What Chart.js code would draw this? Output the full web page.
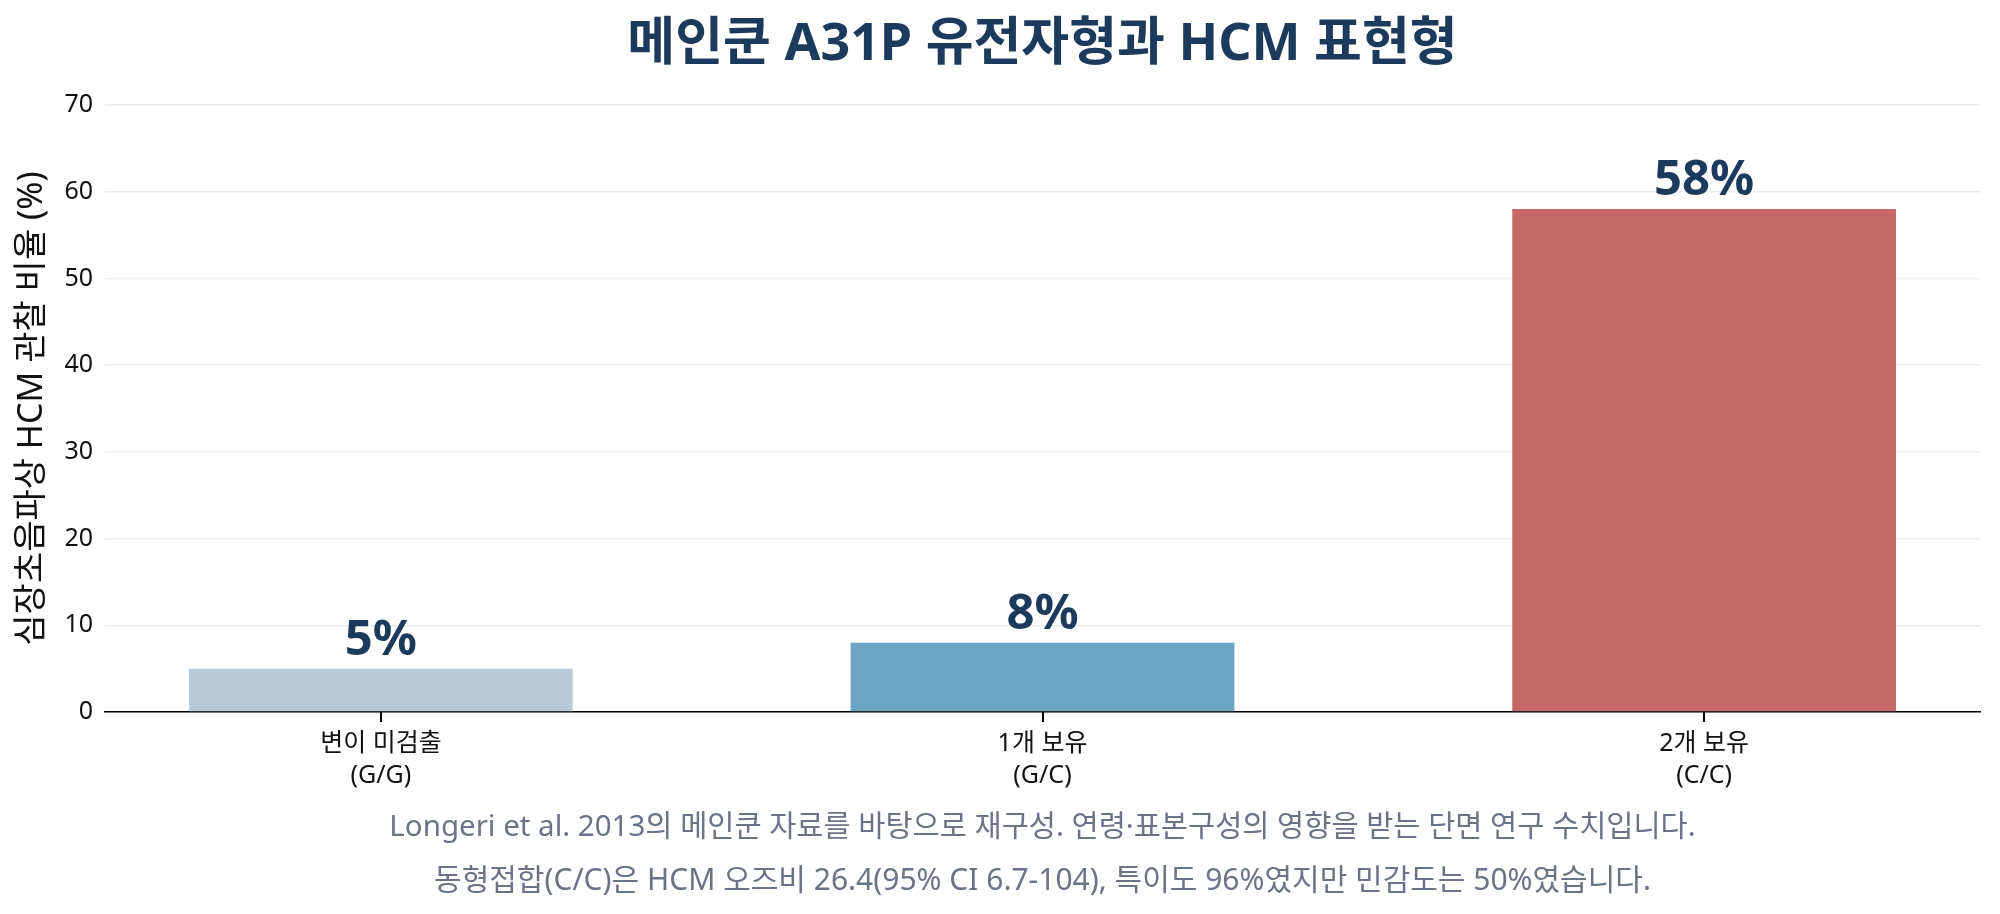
<!DOCTYPE html>
<html>
<head>
<meta charset="utf-8">
<script src="https://cdn.jsdelivr.net/npm/chart.js@4.4.1/dist/chart.umd.min.js"></script>
<style>
html,body{margin:0;padding:0;background:#fff;}
#wrap{width:2000px;height:914px;position:relative;}
</style>
</head>
<body>
<div id="wrap"><canvas id="c" width="2000" height="914"></canvas></div>
<script>
const categories = [["변이 미검출","(G/G)"],["1개 보유","(G/C)"],["2개 보유","(C/C)"]];
const hcmPercent = [5, 8, 58];
const valueLabels = ["5%", "8%", "58%"];
const barColors = ["#b8cad7", "#6fa5c4", "#c46968"];
const yTicks = [0, 10, 20, 30, 40, 50, 60, 70];
const titleText = "메인쿤 A31P 유전자형과 HCM 표현형";
const yTitle = "심장초음파상 HCM 관찰 비율 (%)";
const footnotes = [
  "Longeri et al. 2013의 메인쿤 자료를 바탕으로 재구성. 연령·표본구성의 영향을 받는 단면 연구 수치입니다.",
  "동형접합(C/C)은 HCM 오즈비 26.4(95% CI 6.7-104), 특이도 96%였지만 민감도는 50%였습니다."
];

const FONT = "'Noto Sans', 'Noto Sans CJK KR', sans-serif";
const NAVY = "#1b3a5c";

const points = hcmPercent.map((v, i) => ({x: i, y: v}));

const textPlugin = {
  id: 'textPlugin',
  afterDraw(chart) {
    const ctx = chart.ctx;
    const ca = chart.chartArea;
    const cx = (ca.left + ca.right) / 2;
    ctx.save();
    // x tick marks at category positions
    const xs = chart.scales.x;
    ctx.strokeStyle = '#000';
    ctx.lineWidth = 2;
    categories.forEach((c, i) => {
      const px = Math.round(xs.getPixelForValue(i));
      ctx.beginPath();
      ctx.moveTo(px, ca.bottom);
      ctx.lineTo(px, ca.bottom + 10);
      ctx.stroke();
    });
    ctx.textAlign = 'center';
    ctx.textBaseline = 'middle';
    ctx.fillStyle = NAVY;
    ctx.font = "bold 52px " + FONT;
    ctx.fillText(titleText, cx, 45);
    ctx.fillStyle = "#6b7386";
    ctx.font = "29.5px " + FONT;
    ctx.fillText(footnotes[0], cx, 828);
    ctx.font = "30px " + FONT;
    ctx.fillText(footnotes[1], cx, 881);
    const meta = chart.getDatasetMeta(0);
    ctx.fillStyle = NAVY;
    ctx.font = "bold 49px " + FONT;
    ctx.textBaseline = 'alphabetic';
    meta.data.forEach((bar, i) => {
      ctx.fillText(valueLabels[i], bar.x, bar.y - 14);
    });
    ctx.restore();
  }
};

new Chart(document.getElementById('c'), {
  type: 'bar',
  data: {
    datasets: [{
      data: points,
      backgroundColor: barColors,
      borderWidth: 0,
      barPercentage: 0.58,
      categoryPercentage: 1.0
    }]
  },
  options: {
    responsive: false,
    animation: false,
    devicePixelRatio: 1,
    layout: {padding: {left: 0, right: 20, top: 105, bottom: 0}},
    plugins: {legend: {display: false}, tooltip: {enabled: false}, title: {display: false}},
    scales: {
      x: {
        type: 'linear',
        min: -0.417,
        max: 2.417,
        offset: false,
        afterBuildTicks(scale) { scale.ticks = categories.map((c, i) => ({value: i})); },
        afterFit(scale) { scale.height = 202; },
        border: {display: true, color: '#000', width: 1.5},
        grid: {display: false, drawTicks: false},
        ticks: {
          autoSkip: false,
          maxRotation: 0,
          padding: 16,
          color: '#111',
          font: {family: FONT, size: 25, lineHeight: 1.28},
          callback: (v) => categories[v] || ''
        }
      },
      y: {
        min: 0,
        max: 70,
        afterBuildTicks(scale) { scale.ticks = yTicks.map(v => ({value: v})); },
        afterFit(scale) { scale.width = 105; },
        border: {display: false},
        grid: {color: '#ececec', lineWidth: 1.5, drawTicks: false},
        ticks: {padding: 12, color: '#111', font: {family: FONT, size: 25}},
        title: {display: true, text: yTitle, color: '#111', font: {family: FONT, size: 34}, padding: {top: 12, bottom: 0}}
      }
    }
  },
  plugins: [textPlugin]
});
</script>
</body>
</html>
